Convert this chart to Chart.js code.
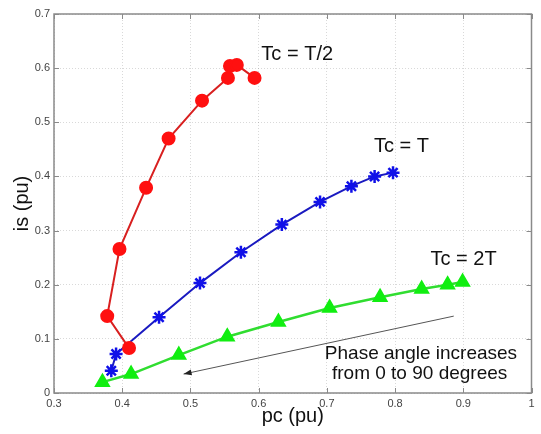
<!DOCTYPE html>
<html>
<head>
<meta charset="utf-8">
<script src="https://cdn.jsdelivr.net/npm/chart.js@4"></script>
<style>
    html, body { margin: 0; padding: 0; background: #fff; }
    canvas { display: block; }
</style>
</head>
<body>
<canvas id="chart" width="541" height="434"></canvas>
<script>
// Tc = T/2
const halfX = [0.410, 0.378, 0.396, 0.435, 0.468, 0.517, 0.555, 0.558, 0.568, 0.594];
const halfY = [0.083, 0.142, 0.266, 0.379, 0.470, 0.540, 0.582, 0.604, 0.606, 0.582];
// Tc = T
const fullX = [0.384, 0.391, 0.454, 0.514, 0.574, 0.634, 0.690, 0.736, 0.770, 0.797];
const fullY = [0.041, 0.072, 0.140, 0.203, 0.260, 0.311, 0.353, 0.382, 0.400, 0.407];
// Tc = 2T
const doubleX = [0.371, 0.413, 0.483, 0.554, 0.629, 0.704, 0.778, 0.839, 0.877, 0.899];
const doubleY = [0.020, 0.035, 0.070, 0.104, 0.131, 0.157, 0.177, 0.192, 0.200, 0.205];

const seriesNames = ['Tc = T/2', 'Tc = T', 'Tc = 2T'];
const noteLines = ['Phase angle increases', 'from 0 to 90 degrees'];

const FONT = '"Liberation Sans", Arial, sans-serif';

function toPoints(xs, ys) {
    return xs.map((x, i) => ({x: x, y: ys[i]}));
}

// text labels placed in data coordinates
const labels = [
    {text: seriesNames[0], x: 0.604, y: 0.625, align: 'left', size: 20},
    {text: seriesNames[1], x: 0.769, y: 0.455, align: 'left', size: 20},
    {text: seriesNames[2], x: 0.852, y: 0.246, align: 'left', size: 20},
    {text: noteLines[0], x: 0.838, y: 0.072, align: 'center', size: 19},
    {text: noteLines[1], x: 0.836, y: 0.035, align: 'center', size: 19}
];
const arrow = {x1: 0.886, y1: 0.142, x2: 0.490, y2: 0.035};

const frame = {
    id: 'frame',
    afterDatasetsDraw(chart) {
        const ctx = chart.ctx;
        const a = chart.chartArea;
        const xs = chart.scales.x, ys = chart.scales.y;
        ctx.save();
        ctx.strokeStyle = '#8a8a8a';
        ctx.lineWidth = 1;
        ctx.beginPath();
        xs.ticks.forEach((t) => {
            const px = Math.round(xs.getPixelForValue(t.value)) + 0.5;
            ctx.moveTo(px, a.bottom); ctx.lineTo(px, a.bottom - 5);
            ctx.moveTo(px, a.top); ctx.lineTo(px, a.top + 5);
        });
        ys.ticks.forEach((t) => {
            const py = Math.round(ys.getPixelForValue(t.value)) + 0.5;
            ctx.moveTo(a.left, py); ctx.lineTo(a.left + 5, py);
            ctx.moveTo(a.right, py); ctx.lineTo(a.right - 5, py);
        });
        ctx.stroke();
        ctx.lineWidth = 1.5;
        ctx.strokeRect(a.left, a.top, a.right - a.left, a.bottom - a.top);

        // arrow
        const x1 = xs.getPixelForValue(arrow.x1), y1 = ys.getPixelForValue(arrow.y1);
        const x2 = xs.getPixelForValue(arrow.x2), y2 = ys.getPixelForValue(arrow.y2);
        ctx.strokeStyle = '#555';
        ctx.fillStyle = '#222';
        ctx.lineWidth = 1;
        ctx.beginPath();
        ctx.moveTo(x1, y1); ctx.lineTo(x2, y2);
        ctx.stroke();
        const ang = Math.atan2(y2 - y1, x2 - x1);
        ctx.beginPath();
        ctx.moveTo(x2, y2);
        ctx.lineTo(x2 - 8 * Math.cos(ang) + 3 * Math.sin(ang), y2 - 8 * Math.sin(ang) - 3 * Math.cos(ang));
        ctx.lineTo(x2 - 8 * Math.cos(ang) - 3 * Math.sin(ang), y2 - 8 * Math.sin(ang) + 3 * Math.cos(ang));
        ctx.closePath();
        ctx.fill();

        ctx.fillStyle = '#111';
        ctx.textBaseline = 'middle';
        labels.forEach((l) => {
            ctx.font = l.size + 'px ' + FONT;
            ctx.textAlign = l.align;
            ctx.fillText(l.text, xs.getPixelForValue(l.x), ys.getPixelForValue(l.y));
        });
        ctx.restore();
    }
};

new Chart(document.getElementById('chart'), {
    type: 'scatter',
    data: {
        datasets: [{
            label: seriesNames[0],
            data: toPoints(halfX, halfY),
            showLine: true,
            borderColor: '#d82020',
            borderWidth: 2,
            pointStyle: 'circle',
            pointRadius: 6,
            pointBackgroundColor: '#ff1010',
            pointBorderColor: '#ff1010'
        }, {
            label: seriesNames[1],
            data: toPoints(fullX, fullY),
            showLine: true,
            borderColor: '#1a1ac0',
            borderWidth: 2,
            pointStyle: 'star',
            pointRadius: 6.5,
            pointBorderWidth: 2.5,
            pointBorderColor: '#1010e8',
            pointBackgroundColor: '#1010e8'
        }, {
            label: seriesNames[2],
            data: toPoints(doubleX, doubleY),
            showLine: true,
            borderColor: '#30dd30',
            borderWidth: 2.5,
            pointStyle: 'triangle',
            pointRadius: 7,
            pointBackgroundColor: '#11ee11',
            pointBorderColor: '#11ee11'
        }]
    },
    options: {
        responsive: false,
        animation: false,
        layout: {padding: {top: 14, right: 3, left: 0, bottom: 0}},
        plugins: {
            legend: {display: false},
            tooltip: {enabled: false}
        },
        scales: {
            x: {
                type: 'linear',
                min: 0.3,
                max: 1,
                afterFit: (s) => { s.height = 41; },
                ticks: {
                    stepSize: 0.1,
                    padding: 4,
                    color: '#444',
                    font: {family: FONT, size: 11},
                    callback: (v) => Number(v.toFixed(1)).toString()
                },
                grid: {color: 'rgba(0,0,0,0.15)', drawTicks: false},
                border: {display: false, dash: [1, 2]},
                title: {
                    display: true,
                    text: 'pc (pu)',
                    color: '#111',
                    font: {family: FONT, size: 20},
                    padding: {top: 0, bottom: 6}
                }
            },
            y: {
                type: 'linear',
                min: 0,
                max: 0.7,
                afterFit: (s) => { s.width = 54; },
                ticks: {
                    stepSize: 0.1,
                    padding: 4,
                    color: '#444',
                    font: {family: FONT, size: 11},
                    callback: (v) => Number(v.toFixed(1)).toString()
                },
                grid: {color: 'rgba(0,0,0,0.15)', drawTicks: false},
                border: {display: false, dash: [1, 2]},
                title: {
                    display: true,
                    text: 'is (pu)',
                    color: '#111',
                    font: {family: FONT, size: 20},
                    padding: {top: 10, bottom: 0}
                }
            }
        }
    },
    plugins: [frame]
});
</script>
</body>
</html>
